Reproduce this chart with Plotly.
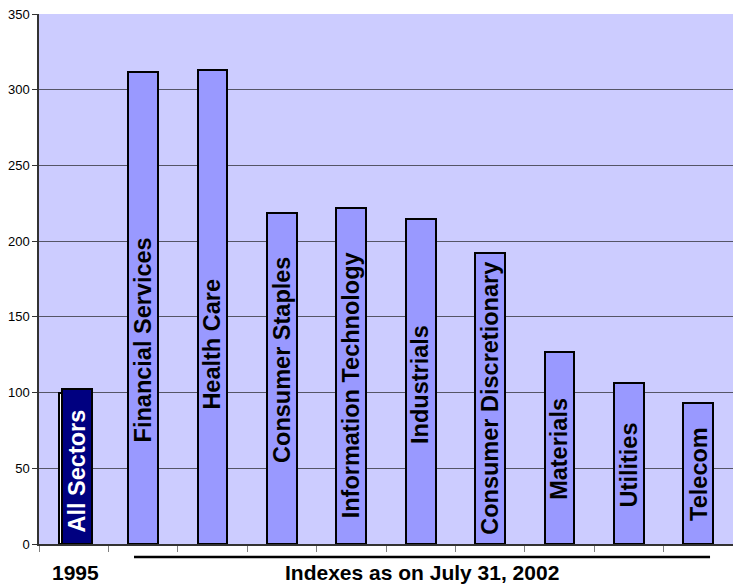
import plotly.graph_objects as go

# ---- data ----
sectors = ["All Sectors", "Financial Services", "Health Care", "Consumer Staples",
           "Information Technology", "Industrials", "Consumer Discretionary",
           "Materials", "Utilities", "Telecom"]
index_2002 = [102.5, 311.5, 313, 218.5, 222, 214.5, 192, 126.5, 106, 93]
base_1995 = [100]
y_ticks = [0, 50, 100, 150, 200, 250, 300, 350]
label_1995 = "1995"
label_2002 = "Indexes as on July 31, 2002"

# label placement (centre of rotated text, in axis units)
label_y = [48, 134.5, 132, 121.5, 105, 105.5, 96, 62.5, 52.5, 46.5]

FONT = "Liberation Sans, Arial, Helvetica, sans-serif"

xs = list(range(len(sectors)))
W = 0.43

fig = go.Figure()
# white back bar for 1995
fig.add_trace(go.Bar(
    x=[0], y=base_1995, width=W, offset=-W / 2,
    marker=dict(color="white", line=dict(color="black", width=2)),
    hoverinfo="skip", showlegend=False))
# main bars
colors = ["#000080"] + ["#9999FF"] * (len(sectors) - 1)
offsets = [-W / 2 + 0.05] + [-W / 2] * (len(sectors) - 1)
fig.add_trace(go.Bar(
    x=xs, y=index_2002, width=W, offset=offsets,
    marker=dict(color=colors, line=dict(color="black", width=2)),
    showlegend=False))

annotations = []
for i, (name, yc) in enumerate(zip(sectors, label_y)):
    annotations.append(dict(
        x=i + (0.05 if i == 0 else 0), y=yc, xref="x", yref="y",
        xanchor="center", yanchor="middle",
        text="<b>" + name + "</b>", textangle=-90, showarrow=False,
        font=dict(family=FONT, size=23.5, color="white" if i == 0 else "black")))
annotations.append(dict(
    x=0.02, y=-0.053, xref="x", yref="paper", xanchor="center", yanchor="middle",
    text="<b>" + label_1995 + "</b>",
    showarrow=False, font=dict(family=FONT, size=21, color="black")))
annotations.append(dict(
    x=0.5513, y=-0.053, xref="paper", yref="paper", xanchor="center", yanchor="middle",
    text="<b>" + label_2002 + "</b>",
    showarrow=False, font=dict(family=FONT, size=21, color="black")))

fig.update_layout(
    width=733, height=584,
    margin=dict(l=39, r=0, t=14, b=40, pad=0),
    paper_bgcolor="white", plot_bgcolor="#CCCCFF",
    barmode="overlay", bargap=0,
    annotations=annotations,
    shapes=[dict(type="line", xref="paper", yref="paper",
                 x0=0.1369, x1=0.9669, y0=-0.0245, y1=-0.0245,
                 line=dict(color="black", width=2.5))],
    xaxis=dict(range=[-0.5, len(sectors) - 0.5],
               tickvals=[i - 0.5 for i in range(len(sectors) + 1)],
               ticks="outside", ticklen=6, tickcolor="#808080", tickwidth=1,
               showticklabels=False, showgrid=False, zeroline=False,
               showline=True, linecolor="#333333", linewidth=1.5),
    yaxis=dict(range=[0, 350], tickvals=y_ticks,
               ticks="outside", ticklen=5, tickcolor="#333333",
               showgrid=True, gridcolor="#555566", gridwidth=1,
               zeroline=False, showline=True, linecolor="#333333", linewidth=1.5,
               tickfont=dict(family=FONT, size=13, color="black")),
)

# remove the default 8px page margin so the figure sits at the window origin
fig.write_html("out.html", config={"displayModeBar": False},
               post_script="document.body.style.margin='0';document.body.style.overflow='hidden';")
